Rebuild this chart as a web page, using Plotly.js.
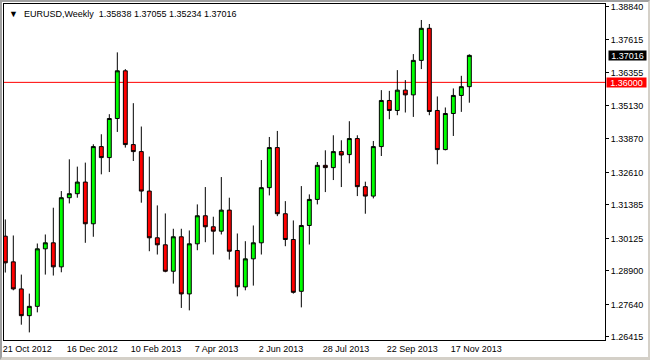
<!DOCTYPE html>
<html>
<head>
<meta charset="utf-8">
<script src="https://cdn.plot.ly/plotly-3.0.1.min.js"></script>
<style>
html,body{margin:0;padding:0;background:#fff;}
#wrap{position:relative;width:650px;height:360px;overflow:hidden;}
#chart{position:absolute;left:0;top:0;width:650px;height:360px;}
#frame{position:absolute;left:0;top:0;width:650px;height:360px;box-sizing:border-box;
border-top:2px solid #a0a0a0;border-left:2px solid #a0a0a0;border-right:2px solid #d4d0c8;border-bottom:3px solid #d4d0c8;pointer-events:none;}
</style>
</head>
<body>
<div id="wrap"><div id="chart"></div><div id="frame"></div></div>
<script>
const symbol = "EURUSD,Weekly";
const weeks = ["2012-10-21","2012-10-28","2012-11-04","2012-11-11","2012-11-18","2012-11-25","2012-12-02","2012-12-09","2012-12-16","2012-12-23","2012-12-30","2013-01-06","2013-01-13","2013-01-20","2013-01-27","2013-02-03","2013-02-10","2013-02-17","2013-02-24","2013-03-03","2013-03-10","2013-03-17","2013-03-24","2013-03-31","2013-04-07","2013-04-14","2013-04-21","2013-04-28","2013-05-05","2013-05-12","2013-05-19","2013-05-26","2013-06-02","2013-06-09","2013-06-16","2013-06-23","2013-06-30","2013-07-07","2013-07-14","2013-07-21","2013-07-28","2013-08-04","2013-08-11","2013-08-18","2013-08-25","2013-09-01","2013-09-08","2013-09-15","2013-09-22","2013-09-29","2013-10-06","2013-10-13","2013-10-20","2013-10-27","2013-11-03","2013-11-10","2013-11-17","2013-11-24","2013-12-01"];
const opens = [1.30208,1.29242,1.28223,1.27216,1.27567,1.29733,1.29959,1.29054,1.31657,1.31808,1.32246,1.30676,1.33582,1.33167,1.34639,1.36435,1.33657,1.33393,1.31907,1.30148,1.29884,1.28888,1.30186,1.28035,1.29922,1.30978,1.30563,1.30397,1.31190,1.29669,1.28299,1.29356,1.29959,1.32035,1.33544,1.31054,1.30084,1.28133,1.30612,1.31593,1.32876,1.32790,1.33393,1.33280,1.33884,1.32073,1.31718,1.33582,1.35318,1.34941,1.35707,1.35529,1.36827,1.38035,1.34941,1.33469,1.34827,1.35507,1.35838];
const highs = [1.30839,1.30235,1.28763,1.28046,1.29933,1.30273,1.31280,1.31907,1.33103,1.32827,1.32978,1.33669,1.34046,1.34801,1.37129,1.36499,1.35216,1.34337,1.33205,1.31367,1.31065,1.30488,1.30488,1.30424,1.31405,1.32058,1.30941,1.32435,1.31657,1.30310,1.30020,1.30612,1.33076,1.33944,1.34171,1.31529,1.30801,1.32095,1.31782,1.33001,1.33442,1.34008,1.33820,1.34537,1.34008,1.32261,1.33793,1.35707,1.35680,1.36461,1.36084,1.37065,1.38348,1.38197,1.35469,1.35054,1.35771,1.36246,1.37055];
const lows = [1.28839,1.28171,1.26876,1.26586,1.27341,1.28763,1.28726,1.28850,1.31442,1.31657,1.29959,1.30186,1.32537,1.32623,1.34133,1.33544,1.33039,1.31469,1.29642,1.29518,1.28850,1.28423,1.27507,1.27416,1.29680,1.29982,1.29518,1.30273,1.29329,1.27944,1.28171,1.28348,1.29518,1.31744,1.30963,1.29831,1.28046,1.27529,1.29895,1.31405,1.31869,1.32322,1.32058,1.32952,1.31718,1.31054,1.31631,1.33227,1.34612,1.34763,1.34865,1.34699,1.36499,1.34763,1.32914,1.33440,1.33982,1.34888,1.35234];
const closes = [1.29205,1.28223,1.27216,1.27567,1.29733,1.29959,1.29054,1.31657,1.31808,1.32246,1.30676,1.33582,1.33167,1.34639,1.36435,1.33657,1.33393,1.31907,1.30148,1.29884,1.28888,1.30186,1.28035,1.29922,1.30978,1.30563,1.30397,1.31190,1.29642,1.28299,1.29356,1.29959,1.32035,1.33544,1.31054,1.30084,1.28095,1.30612,1.31593,1.32876,1.32790,1.33393,1.33265,1.33884,1.32073,1.31718,1.33582,1.35318,1.34941,1.35707,1.35529,1.36827,1.38035,1.34903,1.33469,1.34827,1.35507,1.35838,1.37016];
const dateTickVals = ["2012-10-21","2012-12-16","2013-02-10","2013-04-07","2013-06-02","2013-07-28","2013-09-22","2013-11-17"];
const dateTickText = ["21 Oct 2012","16 Dec 2012","10 Feb 2013","7 Apr 2013","2 Jun 2013","28 Jul 2013","22 Sep 2013","17 Nov 2013"];
const priceTicks = [1.38840,1.37615,1.36355,1.35130,1.33870,1.32610,1.31385,1.30125,1.28900,1.27640,1.26415];
const markerLevel = 1.36000;

const n = closes.length - 1;
const lastClose = closes[n];
const header = symbol + "  " + [opens[n], highs[n], lows[n], closes[n]].map(v => v.toFixed(5)).join(" ");
const FONT = "Liberation Sans, Arial, sans-serif";

const trace = {
  type: "candlestick",
  x: weeks, open: opens, high: highs, low: lows, close: closes,
  increasing: {fillcolor: "#00ff00", line: {color: "#000000", width: 1}},
  decreasing: {fillcolor: "#ff0000", line: {color: "#000000", width: 1}},
  whiskerwidth: 0,
  hoverinfo: "skip",
  showlegend: false
};

const layout = {
  width: 650, height: 360,
  margin: {l: 4, r: 45, t: 4, b: 20},
  paper_bgcolor: "#ffffff", plot_bgcolor: "#ffffff",
  font: {family: FONT, size: 9, color: "#000000"},
  showlegend: false,
  xaxis: {
    type: "date",
    range: ["2012-10-19 20:24", "2014-03-29 16:48"],
    rangeslider: {visible: false},
    showgrid: false, zeroline: false,
    showline: true, linecolor: "#000000", linewidth: 1, mirror: true,
    tickmode: "array", tickvals: dateTickVals, ticktext: dateTickText,
    ticks: "", ticklabelposition: "outside right", ticklabelshift: -3,
    tickfont: {family: FONT, size: 9, color: "#000000"},
    fixedrange: true
  },
  yaxis: {
    side: "right",
    range: [1.2630, 1.3895],
    showgrid: false, zeroline: false,
    showline: true, linecolor: "#000000", linewidth: 1, mirror: true,
    tickmode: "array", tickvals: priceTicks, ticktext: priceTicks.map(v => v.toFixed(5)),
    ticks: "outside", ticklen: 3, tickcolor: "#000000", tickwidth: 1,
    tickfont: {family: FONT, size: 9, color: "#000000"},
    fixedrange: true
  },
  shapes: [
    {type: "line", xref: "paper", x0: 0, x1: 1, yref: "y", y0: markerLevel, y1: markerLevel,
     line: {color: "#ff0000", width: 1}, layer: "below"}
  ],
  annotations: [
    {xref: "paper", yref: "paper", x: 0, y: 1, xanchor: "left", yanchor: "top", xshift: 3, yshift: -3,
     text: "\u25BC", showarrow: false, font: {family: FONT, size: 9, color: "#000000"}},
    {xref: "paper", yref: "paper", x: 0, y: 1, xanchor: "left", yanchor: "top", xshift: 18, yshift: -3,
     text: header, showarrow: false, font: {family: FONT, size: 9, color: "#000000"}},
    {xref: "paper", yref: "y", x: 1, y: lastClose, xanchor: "left", yanchor: "middle", xshift: 3,
     text: lastClose.toFixed(5), showarrow: false, bgcolor: "#000000", width: 37, height: 9, borderpad: 0,
     font: {family: FONT, size: 9, color: "#ffffff"}},
    {xref: "paper", yref: "y", x: 1, y: markerLevel, xanchor: "left", yanchor: "middle", xshift: 1,
     text: markerLevel.toFixed(5), showarrow: false, bgcolor: "#ff0000", width: 39, height: 9, borderpad: 0,
     font: {family: FONT, size: 9, color: "#ffffff"}}
  ]
};

Plotly.newPlot("chart", [trace], layout, {staticPlot: true, displayModeBar: false});
</script>
</body>
</html>
